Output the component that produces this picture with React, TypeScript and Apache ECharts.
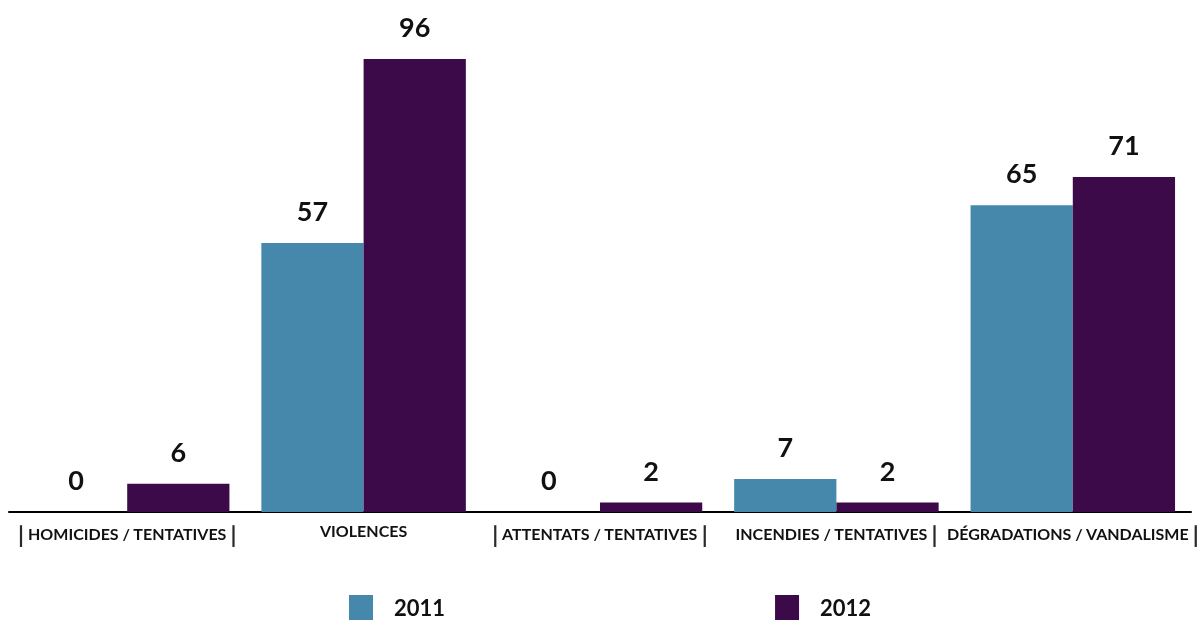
import React, { useEffect, useRef } from "react";
import * as echarts from "echarts";

const categories = [
  "| HOMICIDES / TENTATIVES |",
  "VIOLENCES",
  "| ATTENTATS / TENTATIVES |",
  "INCENDIES / TENTATIVES |",
  "DÉGRADATIONS / VANDALISME |",
];
const values2011 = [0, 57, 0, 7, 65];
const values2012 = [6, 96, 2, 2, 71];
const seriesNames = ["2011", "2012"];

const FONT = "Lato, 'Noto Sans', sans-serif";

export default function App() {
  const ref = useRef<HTMLDivElement>(null);
  useEffect(() => {
    if (!ref.current) return;
    const chart = echarts.init(ref.current, undefined, { renderer: "svg" });
    const formatLabel = (v: string) =>
      v
        .split(/(\|)/)
        .map((p) => (p === "|" ? "{sep|\u007C}" : p === "" ? "" : "{txt|" + p + "}"))
        .join("");
    const valueLabel = {
      show: true,
      position: "top",
      distance: 19,
      fontFamily: FONT,
      fontWeight: "bold",
      fontSize: 27,
      color: "#111",
    };
    chart.setOption({
      animation: false,
      grid: {
        left: 9,
        right: 12,
        top: 59,
        bottom: 109,
        containLabel: false,
        outerBoundsMode: "none",
      },
      legend: {
        left: 349,
        top: 595,
        itemWidth: 24,
        itemHeight: 25,
        itemGap: 330,
        icon: "rect",
        padding: 0,
        textStyle: {
          fontFamily: FONT,
          fontWeight: "bold",
          fontSize: 22,
          color: "#111",
          padding: [0, 0, 0, 16],
        },
        data: seriesNames,
      },
      xAxis: {
        type: "category",
        data: categories,
        axisLine: { lineStyle: { color: "#000", width: 2 } },
        axisTick: { show: false },
        axisLabel: {
          interval: 0,
          margin: 10,
          overflow: "none",
          hideOverlap: false,
          formatter: formatLabel,
          rich: {
            txt: { fontFamily: FONT, fontWeight: "bold", fontSize: 16, color: "#111" },
            sep: { fontFamily: FONT, fontWeight: "bold", fontSize: 23, color: "#2a2a2a" },
          },
        },
      },
      yAxis: {
        type: "value",
        min: 0,
        max: 96,
        show: false,
        splitLine: { show: false },
      },
      series: [
        {
          name: seriesNames[0],
          type: "bar",
          data: values2011,
          barGap: "0%",
          barCategoryGap: "13.5%",
          itemStyle: { color: "#4588AB" },
          label: valueLabel,
        },
        {
          name: seriesNames[1],
          type: "bar",
          data: values2012,
          barGap: "0%",
          barCategoryGap: "13.5%",
          itemStyle: { color: "#3C0A48" },
          label: valueLabel,
        },
      ],
    });
    return () => chart.dispose();
  }, []);
  return (
    <div
      ref={ref}
      style={{ position: "fixed", left: 0, top: 0, width: 1203, height: 621 }}
    />
  );
}
